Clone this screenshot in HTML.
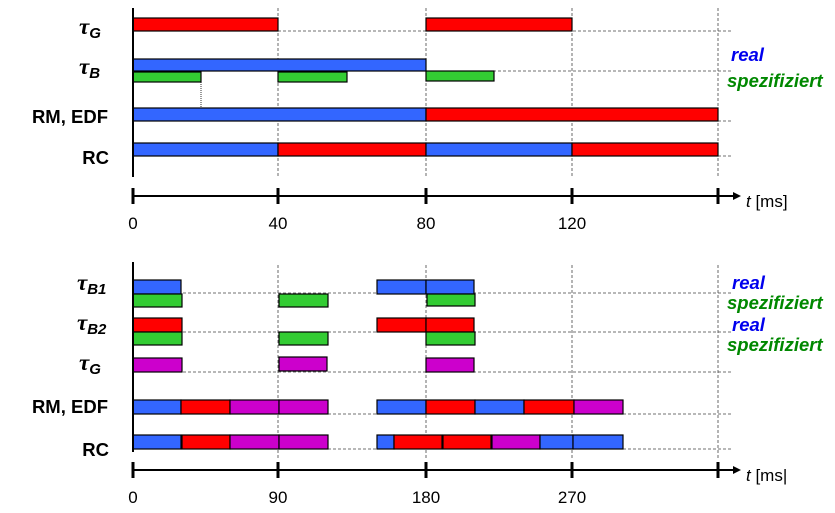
<!DOCTYPE html>
<html><head><meta charset="utf-8"><style>
html,body{margin:0;padding:0;background:#fff;}
svg{display:block;font-family:"Liberation Sans",Arial,sans-serif;}
.d{stroke:#444;stroke-width:0.8;stroke-dasharray:3,2;fill:none}
.b{stroke:#000;stroke-width:1.2}
.B{fill:#3366ff}.R{fill:#ff0000}.G{fill:#33cc33}.M{fill:#cc00cc}
.lab{font-weight:bold;font-size:18.5px}
.tau{font-family:"Liberation Serif",serif;font-style:italic;font-weight:bold;font-size:23px}
.sub{font-family:"Liberation Sans",sans-serif;font-style:italic;font-weight:bold;font-size:15px}
.rl{font-family:"Liberation Sans",sans-serif;font-style:italic;font-weight:bold;font-size:18.5px}
.tick{font-size:17px}
</style></head><body>
<svg width="835" height="513" viewBox="0 0 835 513" xmlns="http://www.w3.org/2000/svg">
<g>
<line class="d" x1="278" y1="8" x2="278" y2="177"/>
<line class="d" x1="426" y1="8" x2="426" y2="177"/>
<line class="d" x1="572" y1="8" x2="572" y2="177"/>
<line class="d" x1="718" y1="8" x2="718" y2="177"/>
<line class="d" x1="133" y1="31" x2="731" y2="31"/>
<line class="d" x1="133" y1="71" x2="731" y2="71"/>
<line class="d" x1="133" y1="121" x2="731" y2="121"/>
<line class="d" x1="133" y1="156" x2="731" y2="156"/>
<line x1="201" y1="82" x2="201" y2="108" stroke="#000" stroke-width="0.8" stroke-dasharray="1,1"/>
<rect class="b R" x="133" y="18" width="145" height="13"/>
<rect class="b R" x="426" y="18" width="146" height="13"/>
<rect class="b B" x="133" y="59" width="293" height="12"/>
<rect class="b G" x="133" y="72" width="68" height="10"/>
<rect class="b G" x="278" y="72" width="69" height="10"/>
<rect class="b G" x="426" y="71" width="68" height="10"/>
<rect class="b B" x="133" y="108" width="293" height="13"/>
<rect class="b R" x="426" y="108" width="292" height="13"/>
<rect class="b B" x="133" y="143" width="145" height="13"/>
<rect class="b R" x="278" y="143" width="148" height="13"/>
<rect class="b B" x="426" y="143" width="146" height="13"/>
<rect class="b R" x="572" y="143" width="146" height="13"/>
<line x1="133" y1="8" x2="133" y2="177" stroke="#000" stroke-width="2"/>
<line x1="133" y1="196" x2="735" y2="196" stroke="#000" stroke-width="2"/>
<polygon points="741,196 733,192 733,200" fill="#000"/>
<g stroke="#000" stroke-width="3">
<line x1="133" y1="188" x2="133" y2="204"/><line x1="278" y1="188" x2="278" y2="204"/>
<line x1="426" y1="188" x2="426" y2="204"/><line x1="572" y1="188" x2="572" y2="204"/>
<line x1="718" y1="188" x2="718" y2="204"/></g>
<g class="tick" text-anchor="middle"><text x="133" y="229">0</text><text x="278" y="229">40</text><text x="426" y="229">80</text><text x="572" y="229">120</text></g>
<text x="746" y="207" font-size="17"><tspan font-style="italic">t</tspan> [ms]</text>
<text class="tau" x="79" y="34">τ<tspan class="sub" dy="4">G</tspan></text>
<text class="tau" x="79" y="74">τ<tspan class="sub" dy="4">B</tspan></text>
<text class="lab" x="108" y="123" text-anchor="end">RM, EDF</text>
<text class="lab" x="109" y="164" text-anchor="end">RC</text>
<text x="731" y="61" class="rl" fill="#0000ee">real</text>
<text x="727" y="87" class="rl" fill="#008800">spezifiziert</text>
</g>
<g>
<line class="d" x1="278" y1="265" x2="278" y2="460"/>
<line class="d" x1="426" y1="265" x2="426" y2="460"/>
<line class="d" x1="572" y1="265" x2="572" y2="460"/>
<line class="d" x1="718" y1="265" x2="718" y2="460"/>
<line class="d" x1="133" y1="293" x2="731" y2="293"/>
<line class="d" x1="133" y1="332" x2="731" y2="332"/>
<line class="d" x1="133" y1="372" x2="731" y2="372"/>
<line class="d" x1="133" y1="414" x2="731" y2="414"/>
<line class="d" x1="133" y1="449" x2="731" y2="449"/>
<rect class="b B" x="133" y="280" width="48" height="14"/>
<rect class="b B" x="377" y="280" width="49" height="14"/>
<rect class="b B" x="426" y="280" width="48" height="14"/>
<rect class="b G" x="133" y="294" width="49" height="13"/>
<rect class="b G" x="279" y="294" width="49" height="13"/>
<rect class="b G" x="427" y="294" width="48" height="12"/>
<rect class="b R" x="133" y="318" width="49" height="14"/>
<rect class="b R" x="377" y="318" width="49" height="14"/>
<rect class="b R" x="426" y="318" width="48" height="14"/>
<rect class="b G" x="133" y="332" width="49" height="13"/>
<rect class="b G" x="279" y="332" width="49" height="13"/>
<rect class="b G" x="426" y="332" width="49" height="13"/>
<rect class="b M" x="133" y="358" width="49" height="14"/>
<rect class="b M" x="279" y="357" width="48" height="14"/>
<rect class="b M" x="426" y="358" width="48" height="14"/>
<rect class="b B" x="133" y="400" width="48" height="14"/>
<rect class="b R" x="181" y="400" width="49" height="14"/>
<rect class="b M" x="230" y="400" width="49" height="14"/>
<rect class="b M" x="279" y="400" width="49" height="14"/>
<rect class="b B" x="377" y="400" width="49" height="14"/>
<rect class="b R" x="426" y="400" width="49" height="14"/>
<rect class="b B" x="475" y="400" width="49" height="14"/>
<rect class="b R" x="524" y="400" width="50" height="14"/>
<rect class="b M" x="574" y="400" width="49" height="14"/>
<rect class="b B" x="133" y="435" width="48" height="14"/>
<rect class="b R" x="182" y="435" width="48" height="14"/>
<rect class="b M" x="230" y="435" width="49" height="14"/>
<rect class="b M" x="279" y="435" width="49" height="14"/>
<rect class="b B" x="377" y="435" width="17" height="14"/>
<rect class="b R" x="394" y="435" width="48" height="14"/>
<rect class="b R" x="443" y="435" width="48" height="14"/>
<rect class="b M" x="492" y="435" width="48" height="14"/>
<rect class="b B" x="540" y="435" width="33" height="14"/>
<rect class="b B" x="573" y="435" width="50" height="14"/>
<line x1="133" y1="262" x2="133" y2="452" stroke="#000" stroke-width="2"/>
<line x1="133" y1="470" x2="735" y2="470" stroke="#000" stroke-width="2"/>
<polygon points="741,470 733,466 733,474" fill="#000"/>
<g stroke="#000" stroke-width="3">
<line x1="133" y1="462" x2="133" y2="478"/><line x1="278" y1="462" x2="278" y2="478"/>
<line x1="426" y1="462" x2="426" y2="478"/><line x1="572" y1="462" x2="572" y2="478"/>
<line x1="718" y1="462" x2="718" y2="478"/></g>
<g class="tick" text-anchor="middle"><text x="133" y="503">0</text><text x="278" y="503">90</text><text x="426" y="503">180</text><text x="572" y="503">270</text></g>
<text x="746" y="481" font-size="17"><tspan font-style="italic">t</tspan> [ms|</text>
<text class="tau" x="77" y="290">τ<tspan class="sub" dy="4">B1</tspan></text>
<text class="tau" x="77" y="330">τ<tspan class="sub" dy="4">B2</tspan></text>
<text class="tau" x="79" y="370">τ<tspan class="sub" dy="4">G</tspan></text>
<text class="lab" x="108" y="413" text-anchor="end">RM, EDF</text>
<text class="lab" x="109" y="456" text-anchor="end">RC</text>
<text x="732" y="289" class="rl" fill="#0000ee">real</text>
<text x="727" y="309" class="rl" fill="#008800">spezifiziert</text>
<text x="732" y="331" class="rl" fill="#0000ee">real</text>
<text x="727" y="351" class="rl" fill="#008800">spezifiziert</text>
</g>
</svg>
</body></html>
